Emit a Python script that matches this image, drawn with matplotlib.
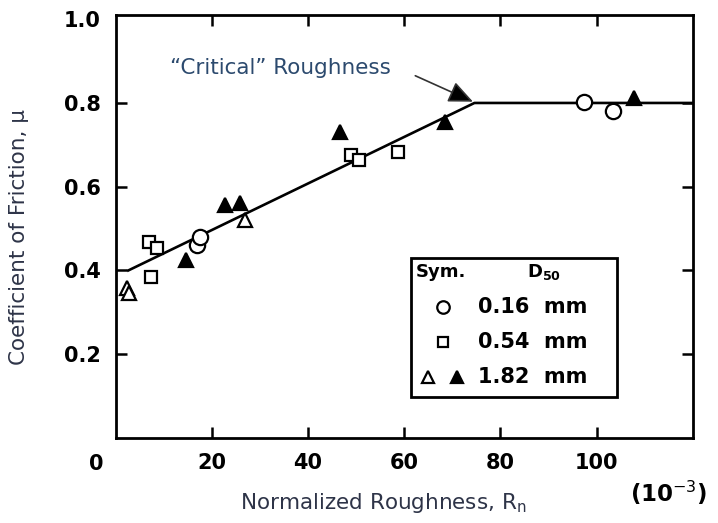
import matplotlib
matplotlib.use("Agg")
import matplotlib.pyplot as plt
from matplotlib.lines import Line2D
from matplotlib.patches import Rectangle
from matplotlib.font_manager import FontProperties

# Measured friction coefficients vs normalized roughness (x in units of 1e-3)
d016_x = [16.9, 17.5, 97.3, 103.5]
d016_y = [0.461, 0.481, 0.803, 0.781]

d054_x = [6.9, 8.5, 7.3, 49.0, 50.5, 58.7]
d054_y = [0.469, 0.454, 0.385, 0.676, 0.664, 0.684]

d182_open_x = [2.3, 2.75, 26.9]
d182_open_y = [0.358, 0.346, 0.521]

d182_fill_x = [14.6, 22.7, 25.8, 46.6, 68.4, 107.7]
d182_fill_y = [0.425, 0.556, 0.561, 0.731, 0.755, 0.811]

# Bilinear trend: rising branch up to the critical roughness, then a plateau
trend_x = [2.6, 74.6, 120.0]
trend_y = [0.40, 0.80, 0.80]
critical_x = 74.6
critical_y = 0.80

x_ticks = [20, 40, 60, 80, 100]
y_ticks = [0.2, 0.4, 0.6, 0.8, 1.0]
y_tick_labels = ["0.2", "0.4", "0.6", "0.8", "1.0"]

label_color = "#2e3448"
note_color = "#2c4a6e"

fig = plt.figure(figsize=(7.18, 5.23), dpi=100)
ax = fig.add_axes([0.1612, 0.1625, 0.8036, 0.8088])

ax.plot(trend_x, trend_y, color="black", lw=1.9, zorder=2)

mk = dict(linestyle="none", mec="black", mew=1.6, zorder=3)
ax.plot(d016_x, d016_y, marker="o", ms=11, mfc="white", **mk)
ax.plot(d054_x, d054_y, marker="s", ms=9, mfc="white", **mk)
ax.plot(d182_open_x, d182_open_y, marker="^", ms=9.5, mfc="white", **mk)
ax.plot(d182_fill_x, d182_fill_y, marker="^", ms=9.5, mfc="black", **mk)

ax.set_xlim(0, 120)
ax.set_ylim(0, 1.01)

ax.set_xticks(x_ticks)
ax.set_xticklabels([str(v) for v in x_ticks])
ax.set_yticks(y_ticks)
ax.set_yticklabels(y_tick_labels)

tick_font = dict(family="DejaVu Sans", weight="bold", size=15)
for lab in ax.get_xticklabels() + ax.get_yticklabels():
    lab.set_fontproperties(FontProperties(**tick_font))

ax.tick_params(which="both", direction="in", length=8, width=1.8,
               top=True, right=True, pad=11, colors="black")
# no tick mark at the top-left corner value
ax.yaxis.get_major_ticks()[-1].tick1line.set_visible(False)
ax.yaxis.get_major_ticks()[-1].tick2line.set_visible(False)

for s in ax.spines.values():
    s.set_linewidth(2.0)

# shared origin label
ax.text(-0.033, -0.062, "0", transform=ax.transAxes, ha="center", va="center",
        **tick_font)

ax.text(0.958, -0.13, "(10$^{-3}$)", transform=ax.transAxes, ha="center",
        va="center", family="DejaVu Sans", weight="bold", size=16.5)

ax.set_xlabel("Normalized Roughness, R$_\\mathrm{n}$", fontsize=15.5,
              color=label_color, va="center")
ax.xaxis.set_label_coords(0.463, -0.154)
ax.set_ylabel("Coefficient of Friction, \u03bc", fontsize=15.5,
              color=label_color, va="center")
ax.yaxis.set_label_coords(-0.168, 0.475)

# critical roughness callout
ax.text(11.3, 0.884, "\u201cCritical\u201d Roughness", fontsize=15.5,
        color=note_color, ha="left", va="center")
ax.annotate("", xy=(critical_x - 0.3, critical_y + 0.003), xytext=(62.3, 0.865),
            arrowprops=dict(arrowstyle="-|>,head_length=0.75,head_width=0.33",
                            color="#333333", lw=1.2, mutation_scale=20,
                            shrinkA=0, shrinkB=0, fc="black"))

# symbol key
ax.add_patch(Rectangle((0.512, 0.097), 0.356, 0.329, transform=ax.transAxes,
                       fill=True, fc="white", ec="black", lw=2.0, zorder=4))
key_font = dict(family="DejaVu Sans", weight="bold", size=15, zorder=5)
ax.text(0.52, 0.392, "Sym.", transform=ax.transAxes, ha="left", va="center",
        family="DejaVu Sans", weight="bold", size=13, zorder=5)
ax.text(0.713, 0.392, "D$_{\\mathbf{50}}$", transform=ax.transAxes, ha="left",
        va="center", family="DejaVu Sans", weight="bold", size=13, zorder=5)

row_y = [0.310, 0.227, 0.145]
row_text = ["0.16  mm", "0.54  mm", "1.82  mm"]
for yy, tt in zip(row_y, row_text):
    ax.text(0.628, yy, tt, transform=ax.transAxes, ha="left", va="center",
            **key_font)

key_mk = dict(transform=ax.transAxes, linestyle="none", mec="black", mew=1.6,
              zorder=5)
ax.add_line(Line2D([0.568], [row_y[0]], marker="o", ms=9, mfc="white", **key_mk))
ax.add_line(Line2D([0.568], [row_y[1]], marker="s", ms=7.5, mfc="white", **key_mk))
ax.add_line(Line2D([0.542], [row_y[2]], marker="^", ms=8, mfc="white", **key_mk))
ax.add_line(Line2D([0.592], [row_y[2]], marker="^", ms=8, mfc="black", **key_mk))

fig.savefig("out.png", dpi=100)
